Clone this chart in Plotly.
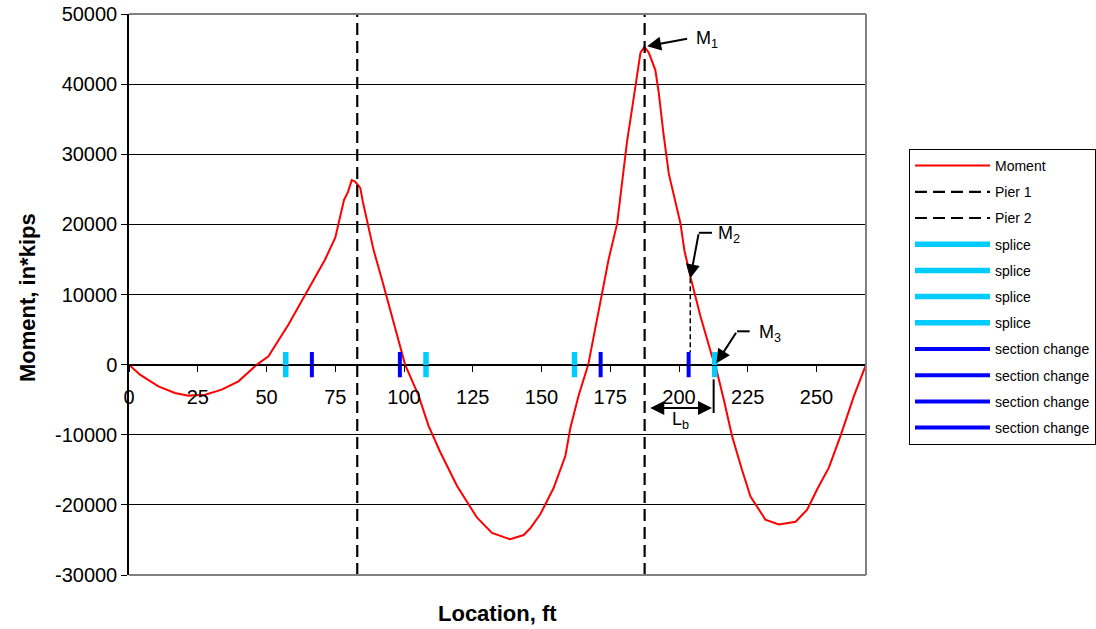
import plotly.graph_objects as go

# ---------------- data ----------------
location_ft = [0, 4.0, 10.7, 16.7, 21.6, 27.7, 33.7, 39.8, 46.5, 50.7, 58.0, 64.0, 71.3, 75.0,
               76.2, 78.2, 79.6, 81.0, 82.2, 84.1, 85.0, 86.5, 88.9, 92.0, 96.2, 100.4, 105.3,
               108.9, 113.2, 119.3, 126.5, 132.0, 138.6, 143.5, 146.0, 149.6, 154.4, 158.7,
               160.5, 163.5, 167.0, 172.0, 174.4, 177.5, 180.5, 181.1, 182.9, 184.7, 186.0,
               187.4, 189.0, 191.4, 192.6, 194.4, 196.3, 200.5, 202.0, 204.3, 207.8, 212.0,
               213.3, 216.3, 219.3, 222.9, 226.0, 231.4, 236.3, 242.4, 246.6, 250.2, 254.5,
               258.7, 263.6, 268.0]
moment_kip_in = [0, -1430, -3100, -4040, -4420, -4280, -3570, -2380, 0, 1180, 5710, 10000,
                 15000, 18100, 20200, 23500, 24600, 26300, 26100, 25200, 23300, 20700, 16400,
                 12100, 5900, 0, -4430, -8700, -12500, -17300, -21800, -24000, -24900, -24300,
                 -23300, -21300, -17600, -13000, -9000, -4400, 0, 9900, 15000, 20100, 30300,
                 31800, 36400, 40950, 44500, 45300, 44500, 42000, 38900, 32800, 27200, 20200,
                 16200, 12300, 6900, 1200, -200, -5000, -10200, -15000, -18800, -22100, -22800,
                 -22400, -20700, -17800, -14700, -10200, -4500, 0]

pier_locations = [83.0, 187.5]
pier_names = ["Pier 1", "Pier 2"]
splice_locations = [57.0, 108.0, 162.0, 213.0]
section_change_locations = [66.5, 98.5, 171.5, 203.5]

x_ticks = [0, 25, 50, 75, 100, 125, 150, 175, 200, 225, 250]
y_ticks = [-30000, -20000, -10000, 0, 10000, 20000, 30000, 40000, 50000]

# annotation anchor values (ft, in*kips)
m1_point = (188.4, 45400)
m2_point = (204.1, 12300)
m3_point = (213.6, 200)
lb_start, lb_end, lb_level = 189.0, 212.0, -6200

# ---------------- style ----------------
FONT = "Liberation Sans, Arial, sans-serif"
Y_MIN, Y_MAX = -30000, 50000
X_MAX = 268
MARK_HALF = 1800

fig = go.Figure()

fig.add_trace(go.Scatter(x=location_ft, y=moment_kip_in, mode="lines", name="Moment",
                         line=dict(color="#FF0000", width=2), legendgroup="g0"))
for i, (p, n) in enumerate(zip(pier_locations, pier_names)):
    fig.add_trace(go.Scatter(x=[p, p], y=[Y_MIN, Y_MAX], mode="lines", name=n,
                             line=dict(color="black", width=2.2, dash="12px,6px"),
                             legendgroup=f"p{i}"))
for i, s in enumerate(splice_locations):
    fig.add_trace(go.Scatter(x=[s, s], y=[-MARK_HALF, MARK_HALF], mode="lines", name="splice",
                             line=dict(color="#00CCFF", width=5.5), legendgroup=f"s{i}"))
for i, s in enumerate(section_change_locations):
    fig.add_trace(go.Scatter(x=[s, s], y=[-MARK_HALF, MARK_HALF], mode="lines",
                             name="section change",
                             line=dict(color="#0000FF", width=4), legendgroup=f"c{i}"))

# zero position of the x axis as a fraction of the plot height
zero_frac = (0 - Y_MIN) / (Y_MAX - Y_MIN)

fig.update_layout(
    width=1096, height=629,
    margin=dict(l=129, r=230, t=14, b=54, autoexpand=False),
    paper_bgcolor="white", plot_bgcolor="white",
    font=dict(family=FONT, color="black"),
    xaxis=dict(range=[0, X_MAX], tickvals=x_ticks, ticktext=[str(v) for v in x_ticks],
               anchor="free", position=zero_frac, automargin=False,
               showline=True, linecolor="black", linewidth=1,
               ticks="outside", ticklen=6, tickcolor="black",
               showgrid=False, zeroline=False,
               tickfont=dict(size=20, family=FONT), ticklabelstandoff=8),
    yaxis=dict(range=[Y_MIN, Y_MAX], tickvals=y_ticks, ticktext=[str(v) for v in y_ticks],
               automargin=False,
               showline=True, linecolor="black", linewidth=1.5,
               ticks="outside", ticklen=6, tickcolor="black",
               showgrid=True, gridcolor="black", gridwidth=1, zeroline=False,
               tickfont=dict(size=20, family=FONT)),
    legend=dict(x=(909 - 129) / 737, xanchor="left", y=(575 - 149) / 561, yanchor="top",
                bordercolor="black", borderwidth=1, bgcolor="white",
                font=dict(size=14, family=FONT), itemwidth=75, tracegroupgap=5,
                traceorder="grouped"),
    showlegend=True,
)

# plot area border (grey) on top, right and bottom
for (x0, y0, x1, y1) in [(0, 1, 1, 1), (1, 0, 1, 1), (0, 0, 1, 0)]:
    fig.add_shape(type="line", xref="x domain", yref="y domain", x0=x0, y0=y0, x1=x1, y1=y1,
                  line=dict(color="#808080", width=2), layer="above")

# axis titles
fig.add_annotation(text="<b>Moment, in*kips</b>", xref="paper", yref="paper",
                   x=(27 - 129) / 737, y=(575 - 298) / 561, textangle=-90, showarrow=False,
                   xanchor="center", yanchor="middle",
                   font=dict(size=22, family=FONT))
fig.add_annotation(text="<b>Location, ft</b>", xref="paper", yref="paper",
                   x=(497 - 129) / 737, y=(575 - 613) / 561, showarrow=False,
                   xanchor="center", yanchor="middle",
                   font=dict(size=22, family=FONT))


def arrow(x, y, ax, ay, **kw):
    fig.add_annotation(x=x, y=y, ax=ax, ay=ay, xref="x", yref="y", axref="x", ayref="y",
                       text="", showarrow=True, arrowhead=2, arrowsize=1.4, arrowwidth=2,
                       arrowcolor="black", **kw)


def label(x, y, txt):
    fig.add_annotation(x=x, y=y, xref="x", yref="y", text=txt, showarrow=False,
                       xanchor="left", yanchor="middle", font=dict(size=18, family=FONT))


def seg(x0, y0, x1, y1, dash="solid", width=2):
    fig.add_shape(type="line", xref="x", yref="y", x0=x0, y0=y0, x1=x1, y1=y1,
                  line=dict(color="black", width=width, dash=dash), layer="above")


# M1
arrow(m1_point[0], m1_point[1], 203.5, 46500)
label(205.5, 46300, "M<sub>1</sub>")
# M2
seg(207.2, 18800, 212.0, 18800)
arrow(m2_point[0], m2_point[1], 207.2, 18800)
label(213.5, 18500, "M<sub>2</sub>")
seg(m2_point[0], m2_point[1], m2_point[0], MARK_HALF, dash="5px,3px", width=1.5)
# M3
seg(221.1, 4750, 225.7, 4750)
arrow(m3_point[0], m3_point[1], 221.1, 4750)
label(228.2, 4500, "M<sub>3</sub>")
# Lb
arrow(lb_end, lb_level, lb_start, lb_level, arrowside="end+start", startarrowhead=2,
      startarrowsize=1.4)
seg(212.6, -2100, 212.6, -6900)
fig.add_annotation(x=200.5, y=-8000, xref="x", yref="y", text="L<sub>b</sub>",
                   showarrow=False, xanchor="center", yanchor="middle",
                   font=dict(size=18, family=FONT))

fig.write_html("out.html", config={"displayModeBar": False},
               post_script="document.body.style.margin='0';document.body.style.padding='0';")
